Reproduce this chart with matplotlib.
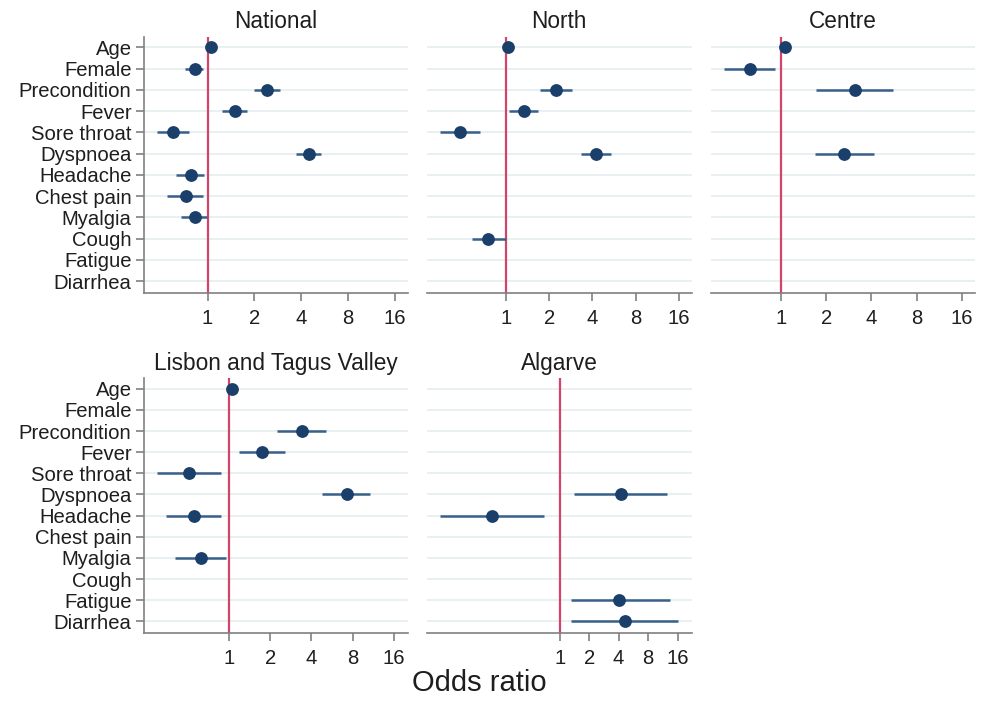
import numpy as np
import matplotlib
matplotlib.use("Agg")
import matplotlib.pyplot as plt
from matplotlib.ticker import FixedLocator, FixedFormatter, NullLocator

plt.rcParams['font.family'] = ['Liberation Sans', 'DejaVu Sans']

categories = ["Age", "Female", "Precondition", "Fever", "Sore throat", "Dyspnoea",
              "Headache", "Chest pain", "Myalgia", "Cough", "Fatigue", "Diarrhea"]
nan = np.nan

panel_titles = ["National", "North", "Centre", "Lisbon and Tagus Valley", "Algarve"]

# odds ratios, lower CI, upper CI (order follows categories)
national_or = [1.05, 0.83, 2.41, 1.50, 0.60, 4.49, 0.78, 0.73, 0.83, nan, nan, nan]
national_lo = [1.03, 0.72, 1.98, 1.23, 0.475, 3.69, 0.63, 0.55, 0.67, nan, nan, nan]
national_hi = [1.07, 0.93, 2.94, 1.79, 0.76, 5.34, 0.95, 0.94, 0.995, nan, nan, nan]

north_or = [1.04, nan, 2.23, 1.33, 0.478, 4.24, nan, nan, nan, 0.753, nan, nan]
north_lo = [1.02, nan, 1.73, 1.05, 0.348, 3.32, nan, nan, nan, 0.579, nan, nan]
north_hi = [1.06, nan, 2.90, 1.67, 0.655, 5.37, nan, nan, nan, 1.00, nan, nan]

centre_or = [1.05, 0.618, 3.09, nan, nan, 2.62, nan, nan, nan, nan, nan, nan]
centre_lo = [1.03, 0.412, 1.70, nan, nan, 1.68, nan, nan, nan, nan, nan, nan]
centre_hi = [1.07, 0.912, 5.54, nan, nan, 4.14, nan, nan, nan, nan, nan, nan]

lisbon_or = [1.05, nan, 3.40, 1.74, 0.514, 7.23, 0.556, nan, 0.625, nan, nan, nan]
lisbon_lo = [1.03, nan, 2.26, 1.18, 0.30, 4.81, 0.348, nan, 0.402, nan, nan, nan]
lisbon_hi = [1.07, nan, 5.14, 2.56, 0.874, 10.76, 0.874, nan, 0.956, nan, nan, nan]

algarve_or = [nan, nan, nan, nan, nan, 4.19, 0.205, nan, nan, nan, 4.06, 4.68]
algarve_lo = [nan, nan, nan, nan, nan, 1.41, 0.0605, nan, nan, nan, 1.30, 1.30]
algarve_hi = [nan, nan, nan, nan, nan, 12.45, 0.687, nan, nan, nan, 13.26, 16.1]

x_ticks = [1, 2, 4, 8, 16]
x_tick_labels = ["1", "2", "4", "8", "16"]

panels = [
    (national_or, national_lo, national_hi),
    (north_or, north_lo, north_hi),
    (centre_or, centre_lo, centre_hi),
    (lisbon_or, lisbon_lo, lisbon_hi),
    (algarve_or, algarve_lo, algarve_hi),
]

# layout (pixels) and x-limits (log2 units)
W, H = 984, 702
boxes = [
    (144, 36.7, 408, 293.3),
    (426.7, 36.7, 691.7, 293.3),
    (710.7, 36.7, 975, 293.3),
    (144, 378.3, 408, 633.3),
    (426.7, 378.3, 691.7, 633.3),
]
xlims_log2 = [(-1.357, 4.277), (-1.838, 4.301), (-1.567, 4.296), (-2.056, 4.339), (-4.508, 4.475)]
show_y = [True, False, False, True, False]

marker_c = "#1a3f6b"
line_c = "#38608a"
ref_c = "#d2456b"
grid_c = "#e3ecef"
spine_c = "#808080"
text_c = "#1e1e1e"

fig = plt.figure(figsize=(W / 100, H / 100), dpi=100)

y = np.arange(len(categories))
for i, (vals, lo, hi) in enumerate(panels):
    x0, y0, x1, y1 = boxes[i]
    ax = fig.add_axes([x0 / W, 1 - y1 / H, (x1 - x0) / W, (y1 - y0) / H])
    ax.set_xscale('log', base=2)
    vals = np.array(vals, float); lo = np.array(lo, float); hi = np.array(hi, float)
    for yy in y:
        ax.axhline(yy, color=grid_c, lw=1.1, zorder=0)
    ax.axvline(1, color=ref_c, lw=1.6, zorder=1)
    ax.hlines(y, lo, hi, color=line_c, lw=1.8, zorder=2)
    ax.plot(vals, y, 'o', color=marker_c, ms=8.2, zorder=3, linestyle='none')
    ax.set_xlim(2 ** xlims_log2[i][0], 2 ** xlims_log2[i][1])
    ax.set_ylim(len(categories) - 1 + 0.57, -0.5)
    ax.xaxis.set_major_locator(FixedLocator(x_ticks))
    ax.xaxis.set_major_formatter(FixedFormatter(x_tick_labels))
    ax.xaxis.set_minor_locator(NullLocator())
    ax.tick_params(axis='x', length=6, width=1.2, color=spine_c, labelsize=14.6,
                   labelcolor=text_c, pad=5)
    for s in ['top', 'right']:
        ax.spines[s].set_visible(False)
    ax.spines['bottom'].set_color(spine_c)
    ax.spines['bottom'].set_linewidth(1.2)
    if show_y[i]:
        ax.set_yticks(y)
        ax.set_yticklabels(categories)
        ax.tick_params(axis='y', length=6, width=1.2, color=spine_c, labelsize=14.6,
                       labelcolor=text_c, pad=3)
        ax.spines['left'].set_color(spine_c)
        ax.spines['left'].set_linewidth(1.2)
    else:
        ax.set_yticks([])
        ax.spines['left'].set_visible(False)
    ax.set_title(panel_titles[i], fontsize=16.3, color=text_c, pad=6)

fig.text(479 / W, 1 - 683 / H, "Odds ratio", fontsize=21, color=text_c,
         ha='center', va='center')

fig.savefig("out.png", dpi=100, facecolor='white')
